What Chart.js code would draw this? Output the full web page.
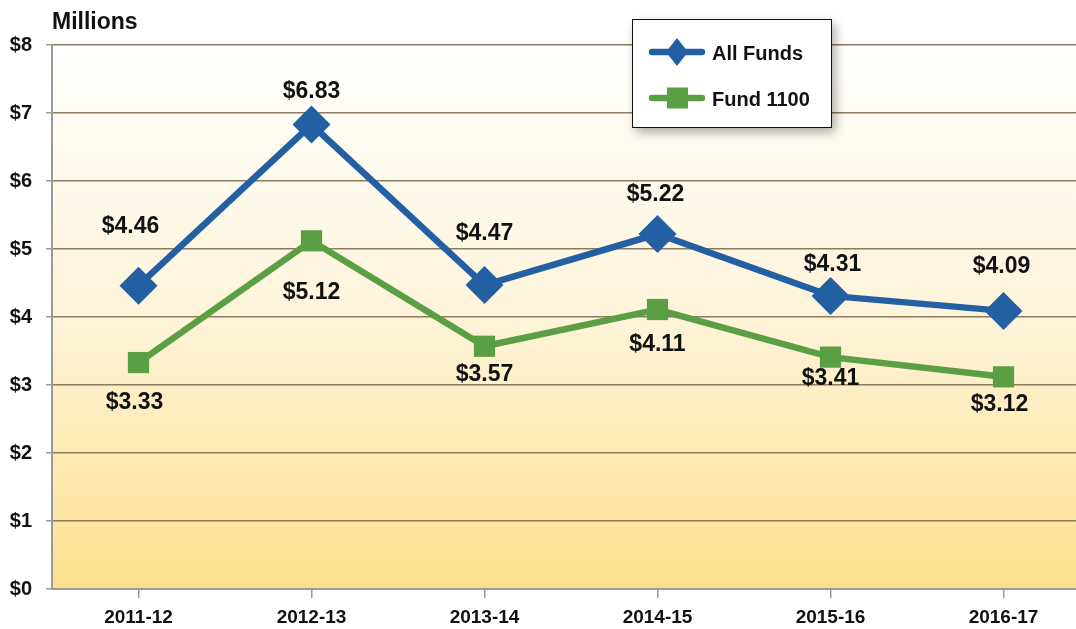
<!DOCTYPE html>
<html>
<head>
<meta charset="utf-8">
<script src="https://cdn.jsdelivr.net/npm/chart.js@4/dist/chart.umd.min.js"></script>
<style>
  html, body { margin: 0; padding: 0; background: #fff; overflow: hidden; }
  #wrap { width: 1076px; height: 629px; overflow: hidden; }
</style>
</head>
<body>
<div id="wrap"><canvas id="chart" width="1090" height="629"></canvas></div>
<script>
// data
const years = ['2011-12', '2012-13', '2013-14', '2014-15', '2015-16', '2016-17'];
const allFunds = [4.46, 6.83, 4.47, 5.22, 4.31, 4.09];
const fund1100 = [3.33, 5.12, 3.57, 4.11, 3.41, 3.12];
const yTicks = [0, 1, 2, 3, 4, 5, 6, 7, 8];

// where the value labels sit relative to their point
const allFundsLabelDx = [-8, 0, 0, -2, 2, -2];
const allFundsLabelDy = [-59, -33, -51, -39, -31, -44];
const fundLabelDx = [-4, 0, 0, 0, 0, -4];
const fundLabelDy = [40, 52, 28, 35, 22, 28];

const BLUE = '#2360a3';
const GREEN = '#5b9f45';
const FONT = 'Arial, "Liberation Sans", Helvetica, sans-serif';

// yellow fade behind the plot
const plotBackground = {
    id: 'plotBackground',
    beforeDraw(chart) {
        const { ctx, chartArea: a } = chart;
        const g = ctx.createLinearGradient(0, a.top, 0, a.bottom);
        g.addColorStop(0, '#fffffe');
        g.addColorStop(0.5, '#fef4da');
        g.addColorStop(1, '#fddf8c');
        ctx.save();
        ctx.fillStyle = g;
        ctx.fillRect(a.left, a.top, a.right - a.left, a.bottom - a.top);
        ctx.restore();
    }
};

// "Millions" above the y axis
const unitTitle = {
    id: 'unitTitle',
    afterDraw(chart) {
        const ctx = chart.ctx;
        ctx.save();
        ctx.font = 'bold 23px ' + FONT;
        ctx.fillStyle = '#111';
        ctx.textAlign = 'left';
        ctx.textBaseline = 'alphabetic';
        ctx.fillText('Millions', chart.chartArea.left, 29);
        ctx.restore();
    }
};

// $ value over / under each point
const valueLabels = {
    id: 'valueLabels',
    afterDatasetsDraw(chart) {
        const ctx = chart.ctx;
        const offs = [[allFundsLabelDx, allFundsLabelDy], [fundLabelDx, fundLabelDy]];
        ctx.save();
        ctx.font = 'bold 23px ' + FONT;
        ctx.fillStyle = '#111';
        ctx.textAlign = 'center';
        ctx.textBaseline = 'middle';
        chart.data.datasets.forEach((ds, i) => {
            chart.getDatasetMeta(i).data.forEach((pt, j) => {
                ctx.fillText('$' + ds.data[j].toFixed(2), pt.x + offs[i][0][j], pt.y + offs[i][1][j]);
            });
        });
        ctx.restore();
    }
};

// boxed legend with drop shadow
const boxLegend = {
    id: 'boxLegend',
    afterDraw(chart) {
        const ctx = chart.ctx;
        const bx = 632, by = 19, bw = 199, bh = 108;
        ctx.save();
        ctx.shadowColor = 'rgba(0,0,0,0.35)';
        ctx.shadowBlur = 10;
        ctx.shadowOffsetX = 4;
        ctx.shadowOffsetY = 5;
        ctx.fillStyle = '#fff';
        ctx.fillRect(bx, by, bw, bh);
        ctx.restore();
        ctx.save();
        ctx.strokeStyle = '#111';
        ctx.lineWidth = 1;
        ctx.strokeRect(bx + 0.5, by + 0.5, bw, bh);

        const rows = [52, 98];
        chart.data.datasets.forEach((ds, i) => {
            const y = rows[i];
            ctx.strokeStyle = ds.borderColor;
            ctx.lineWidth = ds.borderWidth;
            ctx.lineCap = 'round';
            ctx.beginPath();
            ctx.moveTo(652, y);
            ctx.lineTo(702, y);
            ctx.stroke();
            ctx.fillStyle = ds.pointBackgroundColor;
            ctx.beginPath();
            if (ds.pointStyle === 'rectRot') {
                ctx.moveTo(677, y - 14);
                ctx.lineTo(688, y);
                ctx.lineTo(677, y + 14);
                ctx.lineTo(666, y);
            } else {
                ctx.rect(667, y - 10.5, 21, 21);
            }
            ctx.closePath();
            ctx.fill();
            ctx.font = 'bold 20px ' + FONT;
            ctx.fillStyle = '#111';
            ctx.textAlign = 'left';
            ctx.textBaseline = 'alphabetic';
            ctx.fillText(ds.label, 712, y + 8);
        });
        ctx.restore();
    }
};

new Chart(document.getElementById('chart'), {
    type: 'line',
    data: {
        labels: years,
        datasets: [{
            label: 'All Funds',
            data: allFunds,
            borderColor: BLUE,
            borderWidth: 6.5,
            pointStyle: 'rectRot',
            pointRadius: 19,
            pointBorderWidth: 0,
            pointBackgroundColor: BLUE,
            tension: 0
        }, {
            label: 'Fund 1100',
            data: fund1100,
            borderColor: GREEN,
            borderWidth: 6.5,
            pointStyle: 'rect',
            pointRadius: 15,
            pointBorderWidth: 0,
            pointBackgroundColor: GREEN,
            tension: 0
        }]
    },
    options: {
        responsive: false,
        animation: false,
        events: [],
        layout: { autoPadding: false, padding: { top: 45, right: 0, bottom: 0, left: 0 } },
        plugins: { legend: { display: false }, tooltip: { enabled: false } },
        scales: {
            x: {
                offset: true,
                afterFit(scale) { scale.height = 40; },
                grid: { drawOnChartArea: false, drawTicks: true, tickLength: 9, color: '#9a9a9a', lineWidth: 1.5 },
                border: { display: true, color: '#9a9a9a', width: 2 },
                ticks: { color: '#111', font: { family: FONT, size: 19, weight: 'bold' }, padding: 8, maxRotation: 0 }
            },
            y: {
                min: 0,
                max: 8,
                afterFit(scale) { scale.width = 52; },
                afterBuildTicks(scale) { scale.ticks = yTicks.map(v => ({ value: v })); },
                grid: { color: '#8a7c5c', lineWidth: 1.5, tickLength: 6, tickColor: '#9a9a9a' },
                border: { display: true, color: '#9a9a9a', width: 2 },
                ticks: {
                    color: '#111',
                    font: { family: FONT, size: 20, weight: 'bold' },
                    padding: 14,
                    callback: v => '$' + v
                }
            }
        }
    },
    plugins: [plotBackground, unitTitle, valueLabels, boxLegend]
});
</script>
</body>
</html>
